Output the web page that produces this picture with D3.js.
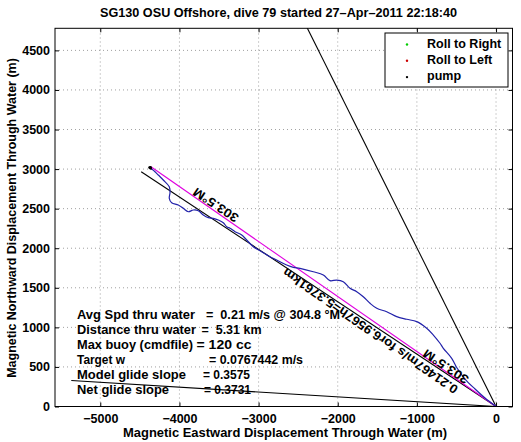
<!DOCTYPE html>
<html><head><meta charset="utf-8">
<script src="https://cdn.jsdelivr.net/npm/d3@7"></script>
<style>
body{margin:0;background:#fff;}
text{font-family:"Liberation Sans",Arial,Helvetica,sans-serif;font-weight:bold;fill:#000;}
</style></head><body>
<svg id="c" width="521" height="442"></svg>
<script>
// ---- data ----
const title = "SG130 OSU Offshore, dive 79 started 27\u2013Apr\u20132011 22:18:40";
const xLabel = "Magnetic Eastward Displacement Through Water (m)";
const yLabel = "Magnetic Northward Displacement Through Water (m)";
const xTicks = [-5000, -4000, -3000, -2000, -1000, 0];
const yTicks = [0, 500, 1000, 1500, 2000, 2500, 3000, 3500, 4000, 4500];
const xDomain = [-5572, 208];
const yDomain = [0, 4779];

// track through water (east, north) in m
const trackE = [0,-139,-265,-392,-493,-560,-666,-708,-792,-876,-1002,-1128,-1255,-1381,-1507,-1592,-1677,-1760,-1845,-1930,-2013,-2098,-2182,-2309,-2477,-2561,-2645,-2771,-2856,-2961,-3067,-3150,-3213,-3298,-3361,-3403,-3446,-3509,-3572,-3635,-3699,-3762,-3825,-3888,-3951,-4015,-4098,-4128,-4119,-4128,-4204,-4267,-4309,-4351,-4363];
const trackN = [0,107,221,347,486,609,735,799,903,988,1072,1102,1135,1198,1241,1304,1387,1451,1494,1577,1598,1590,1662,1703,1746,1759,1788,1851,1893,1956,2019,2104,2167,2209,2252,2272,2323,2357,2378,2386,2420,2474,2483,2461,2504,2546,2575,2631,2702,2777,2862,2925,2967,3001,3010];

// straight reference lines from origin (east, north)
const refLineE = [-4483, -5366, -2399];
const refLineN = [2967, 328, 4811];
const avgLineE = [-4360];
const avgLineN = [3030];

// pump points
const pumpE = [-4370, -4362, -4378, -4366];
const pumpN = [3016, 3008, 3020, 3024];

// legend
const legendLabels = ["Roll to Right", "Roll to Left", "pump"];
const legendColors = ["#00cc00", "#cc0000", "#000000"];

// summary text
const infoLabels = ["Avg Spd thru water", "Distance thru water", "Max buoy (cmdfile)", "Target w", "Model glide slope", "Net glide slope"];
const infoValues = ["=  0.21 m/s @ 304.8 \u00b0M", "=  5.31 km", "= 120 cc", "= 0.0767442 m/s", "= 0.3575", "= 0.3731"];

// rotated labels: text, anchor east, north, heading
const rotTexts = ["303.5\u00b0M", "303.5\u00b0M", "0.21467m/s for6.9567h=5.3761km"];
const rotE = [-3260, -354, -493];
const rotN = [2375, 335, 208];
const rotHeading = [303.5, 303.5, 304.8];

// ---- layout ----
const svg = d3.select("#c");
const L = 55, R = 512.5, T = 28.3, B = 406.5;
const x = d3.scaleLinear().domain(xDomain).range([L, R]);
const y = d3.scaleLinear().domain(yDomain).range([B, T]);

svg.append("defs").append("clipPath").attr("id","clip")
  .append("rect").attr("x",L).attr("y",T).attr("width",R-L).attr("height",B-T);

// grid
const grid = svg.append("g").attr("stroke","#888").attr("stroke-width",0.8).attr("stroke-dasharray","1,3");
grid.selectAll(".gx").data(xTicks).enter().append("line")
  .attr("x1",d=>x(d)).attr("x2",d=>x(d)).attr("y1",B).attr("y2",T);
grid.selectAll(".gy").data(yTicks).enter().append("line")
  .attr("y1",d=>y(d)).attr("y2",d=>y(d)).attr("x1",L).attr("x2",R);

// axes
const ax = d3.axisBottom(x).tickValues(xTicks).tickSize(-4).tickPadding(8).tickFormat(d3.format("d"));
const gx = svg.append("g").attr("transform",`translate(0,${B})`).call(ax);
const ay = d3.axisLeft(y).tickValues(yTicks).tickSize(-4).tickPadding(5).tickFormat(d3.format("d"));
const gy = svg.append("g").attr("transform",`translate(${L},0)`).call(ay);
const axT = d3.axisTop(x).tickValues(xTicks).tickSize(-4).tickFormat("");
const gxt = svg.append("g").attr("transform",`translate(0,${T})`).call(axT);
const ayR = d3.axisRight(y).tickValues(yTicks).tickSize(-4).tickFormat("");
const gyr = svg.append("g").attr("transform",`translate(${R},0)`).call(ayR);
[gx,gy,gxt,gyr].forEach(g=>{
  g.select(".domain").remove();
  g.selectAll(".tick line").attr("stroke","#000");
  g.selectAll("text").style("font-size","12.5px").style("font-weight","bold").attr("fill","#000");
});
gx.selectAll("text").attr("dy","0.71em");

// plot content
const plot = svg.append("g").attr("clip-path","url(#clip)");
refLineE.forEach((e,i)=>{
  plot.append("line").attr("x1",x(0)).attr("y1",y(0)).attr("x2",x(e)).attr("y2",y(refLineN[i]))
    .attr("stroke","#000").attr("stroke-width",1.1);
});
avgLineE.forEach((e,i)=>{
  plot.append("line").attr("x1",x(0)).attr("y1",y(0)).attr("x2",x(e)).attr("y2",y(avgLineN[i]))
    .attr("stroke","#e000e0").attr("stroke-width",1.1);
});
const track = trackE.map((e,i)=>[e,trackN[i]]);
plot.append("path").datum(track)
  .attr("d", d3.line().x(d=>x(d[0])).y(d=>y(d[1])).curve(d3.curveCatmullRom))
  .attr("fill","none").attr("stroke","#2222aa").attr("stroke-width",1.2);
plot.selectAll(".pump").data(pumpE).enter().append("circle")
  .attr("cx",d=>x(d)).attr("cy",(d,i)=>y(pumpN[i])).attr("r",1.3).attr("fill","#000");

// rotated labels
const rotLen = [52, 52, 210];
rotTexts.forEach((t,i)=>{
  const h = rotHeading[i]*Math.PI/180;
  const ang = Math.atan2(-Math.cos(h), Math.sin(h))*180/Math.PI;
  const px = x(rotE[i]), py = y(rotN[i]);
  svg.append("text").attr("x",0).attr("y",0)
    .attr("transform",`translate(${px},${py}) rotate(${ang})`)
    .attr("dominant-baseline","middle").style("font-size","12.5px")
    .attr("textLength",rotLen[i]).attr("lengthAdjust","spacingAndGlyphs").text(t);
});

// info text
const infoX = 77;
const labW = [118, 119, 116, 48, 109, 92];
const eqX = [206, 201.5, 196.5, 209, 203, 204];
const valW = [134, 60, 55, 94, 47, 47];
infoLabels.forEach((t,i)=>{
  const yy = 318.5 + i*15;
  svg.append("text").attr("x",infoX).attr("y",yy).style("font-size","12.5px")
    .attr("textLength",labW[i]).attr("lengthAdjust","spacingAndGlyphs").text(t);
  svg.append("text").attr("x",eqX[i]).attr("y",yy).style("font-size","12.5px")
    .attr("textLength",valW[i]).attr("lengthAdjust","spacingAndGlyphs")
    .style("white-space","pre").text(infoValues[i]);
});

// box
svg.append("rect").attr("x",L).attr("y",T).attr("width",R-L).attr("height",B-T)
  .attr("fill","none").attr("stroke","#000").attr("stroke-width",1);

// legend
const lg = svg.append("g");
lg.append("rect").attr("x",385).attr("y",33).attr("width",123).attr("height",54)
  .attr("fill","#fff").attr("stroke","#000").attr("stroke-width",1);
legendLabels.forEach((t,i)=>{
  const yy = 44.5 + i*16.3;
  lg.append("circle").attr("cx",407).attr("cy",yy).attr("r",1.2).attr("fill",legendColors[i]);
  lg.append("text").attr("x",427).attr("y",yy).attr("dominant-baseline","middle").style("font-size","12.5px").text(t);
});

// titles
svg.append("text").attr("x",278.5).attr("y",17).attr("text-anchor","middle").style("font-size","12.5px")
  .attr("textLength",357).attr("lengthAdjust","spacingAndGlyphs").text(title);
svg.append("text").attr("x",285).attr("y",437).attr("text-anchor","middle").style("font-size","12.5px")
  .attr("textLength",324).attr("lengthAdjust","spacingAndGlyphs").text(xLabel);
svg.append("text").attr("transform","translate(16,218) rotate(-90)").attr("text-anchor","middle").style("font-size","12.5px").text(yLabel);
</script>
</body></html>
